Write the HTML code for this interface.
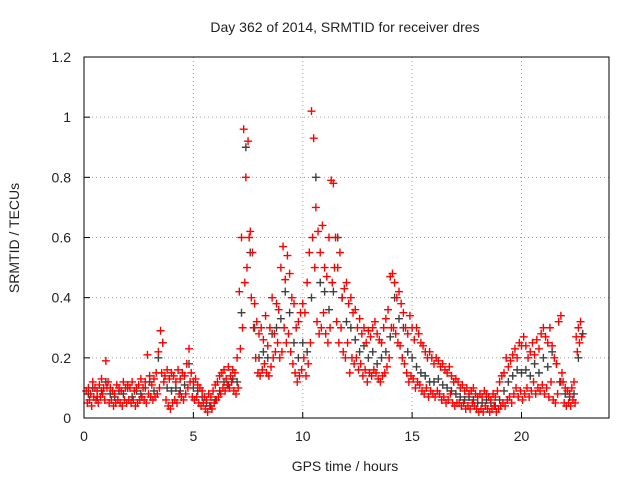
<!DOCTYPE html>
<html><head><meta charset="utf-8"><style>
html,body{margin:0;padding:0;background:#fff}
svg{display:block;font-family:"Liberation Sans",sans-serif}
</style></head><body>
<svg id="chart" width="640" height="480">
<rect width="640" height="480" fill="#fff"/>
<text x="345" y="32" text-anchor="middle" font-size="14" fill="#222">Day 362 of 2014, SRMTID for receiver dres</text>
<text x="345" y="471" text-anchor="middle" font-size="14" fill="#222">GPS time / hours</text>
<text transform="translate(19,238) rotate(-90)" text-anchor="middle" font-size="14" fill="#222">SRMTID / TECUs</text>
<g id="grid"></g>
<g id="marks"></g>
<rect x="84" y="57" width="525" height="361" fill="none" stroke="#000" stroke-width="1"/>
<g id="ticks"></g>
</svg>
<script>
const xTicks=[0,5,10,15,20];
const yTicks=[0,0.2,0.4,0.6,0.8,1,1.2];
const yTickLabels=["0","0.2","0.4","0.6","0.8","1","1.2"];
const red1=[0.09,0.1,0.08,0.12,0.1,0.09,0.11,0.13,0.1,0.19,
0.12,0.1,0.09,0.08,0.11,0.1,0.09,0.12,0.1,0.11,
0.1,0.12,0.09,0.1,0.11,0.13,0.1,0.12,0.21,0.14,
0.11,0.13,0.15,0.22,0.29,0.25,0.14,0.16,0.13,0.15,
0.14,0.12,0.16,0.13,0.15,0.14,0.18,0.23,0.15,0.12,
0.13,0.11,0.1,0.09,0.07,0.06,0.08,0.07,0.09,0.11,
0.12,0.14,0.15,0.16,0.13,0.17,0.14,0.16,0.15,0.2,
0.42,0.6,0.96,0.8,0.92,0.62,0.55,0.38,0.32,0.28,
0.3,0.26,0.34,0.24,0.3,0.4,0.28,0.38,0.36,0.5,
0.57,0.46,0.54,0.48,0.4,0.38,0.3,0.32,0.35,0.38,
0.35,0.45,0.55,1.02,0.93,0.7,0.62,0.55,0.64,0.5,
0.47,0.6,0.79,0.78,0.6,0.5,0.55,0.4,0.43,0.45,
0.38,0.4,0.35,0.36,0.3,0.33,0.28,0.3,0.25,0.29,
0.27,0.3,0.32,0.28,0.26,0.25,0.3,0.33,0.36,0.47,
0.48,0.45,0.4,0.42,0.38,0.35,0.3,0.28,0.34,0.3,
0.26,0.3,0.28,0.25,0.24,0.22,0.2,0.22,0.2,0.18,
0.2,0.19,0.17,0.18,0.16,0.15,0.17,0.14,0.12,0.13,
0.12,0.1,0.11,0.09,0.1,0.08,0.09,0.1,0.08,0.07,
0.08,0.07,0.09,0.08,0.07,0.06,0.08,0.07,0.09,0.12,
0.14,0.15,0.2,0.17,0.19,0.21,0.23,0.2,0.25,0.24,
0.27,0.24,0.2,0.22,0.25,0.21,0.26,0.23,0.28,0.3,
0.27,0.25,0.3,0.24,0.2,0.18,0.32,0.34,0.12,0.1,
0.09,0.08,0.1,0.12,0.27,0.3,0.32];
const red2=[0.05,0.06,0.04,0.07,0.06,0.05,0.07,0.08,0.06,0.1,
0.05,0.06,0.04,0.05,0.06,0.05,0.04,0.06,0.05,0.06,
0.05,0.06,0.04,0.05,0.06,0.07,0.06,0.05,0.08,0.07,
0.06,0.07,0.08,0.1,0.15,0.12,0.06,0.04,0.03,0.05,
0.06,0.05,0.08,0.07,0.06,0.08,0.1,0.12,0.07,0.06,
0.07,0.05,0.04,0.05,0.03,0.02,0.04,0.03,0.05,0.06,
0.07,0.08,0.1,0.09,0.11,0.1,0.12,0.09,0.08,0.1,
0.23,0.3,0.45,0.5,0.6,0.4,0.3,0.2,0.15,0.14,
0.16,0.18,0.15,0.14,0.17,0.2,0.22,0.25,0.2,0.22,
0.3,0.25,0.28,0.22,0.18,0.15,0.12,0.14,0.16,0.2,
0.14,0.18,0.25,0.6,0.5,0.32,0.28,0.3,0.35,0.28,
0.25,0.3,0.45,0.5,0.32,0.25,0.3,0.22,0.2,0.25,
0.15,0.2,0.18,0.2,0.16,0.18,0.14,0.16,0.12,0.15,
0.14,0.16,0.15,0.13,0.12,0.14,0.15,0.17,0.2,0.3,
0.3,0.28,0.25,0.24,0.2,0.18,0.15,0.12,0.14,0.13,
0.1,0.12,0.11,0.09,0.08,0.1,0.07,0.09,0.08,0.07,
0.09,0.08,0.06,0.07,0.05,0.06,0.08,0.05,0.04,0.05,
0.05,0.04,0.05,0.03,0.04,0.03,0.05,0.04,0.03,0.02,
0.03,0.02,0.04,0.03,0.02,0.03,0.04,0.02,0.03,0.04,
0.05,0.04,0.06,0.07,0.05,0.08,0.1,0.07,0.09,0.06,
0.08,0.1,0.07,0.09,0.12,0.08,0.1,0.09,0.11,0.08,
0.1,0.07,0.12,0.06,0.05,0.08,0.12,0.15,0.05,0.04,
0.05,0.04,0.06,0.05,0.22,0.25,0.27];
const gray=[0.08,0.1,0.07,0.09,0.12,0.08,0.07,0.09,0.08,0.1,
0.07,0.09,0.08,0.1,0.12,0.09,0.2,0.25,0.1,0.09,
0.1,0.09,0.11,0.18,0.1,0.09,0.07,0.05,0.04,0.06,
0.09,0.12,0.11,0.13,0.12,0.35,0.9,0.55,0.3,0.2,
0.22,0.2,0.28,0.3,0.33,0.42,0.35,0.25,0.2,0.25,
0.22,0.4,0.8,0.45,0.42,0.36,0.42,0.6,0.4,0.32,
0.3,0.26,0.22,0.24,0.2,0.22,0.18,0.2,0.22,0.27,
0.4,0.33,0.3,0.22,0.2,0.17,0.15,0.14,0.12,0.12,
0.13,0.11,0.1,0.09,0.08,0.07,0.06,0.07,0.06,0.05,
0.05,0.06,0.05,0.04,0.06,0.09,0.12,0.14,0.16,0.15,
0.16,0.14,0.18,0.15,0.2,0.17,0.22,0.18,0.12,0.08,
0.07,0.08,0.2,0.28];
const redStep=0.1, grayStep=0.2, redStart=0.1;
const X0=84,X1=609,Y0=418,Y1=57,XMAX=24,YMAX=1.2;
function xs(v){return X0+(X1-X0)*v/XMAX;}
function ys(v){return Y0-(Y0-Y1)*v/YMAX;}
const NS="http://www.w3.org/2000/svg";
const grid=document.getElementById('grid'),marks=document.getElementById('marks'),ticks=document.getElementById('ticks');
function el(t,a,p){const e=document.createElementNS(NS,t);for(const k in a)e.setAttribute(k,a[k]);p.appendChild(e);return e;}
xTicks.forEach(v=>{
  const x=xs(v);
  if(v>0){const g=el('line',{x1:x,x2:x,y1:Y1,y2:Y0,stroke:'#a0a0a0','stroke-dasharray':'1,3'},grid);
  
  }
  const t=el('line',{x1:x,x2:x,y1:Y0,y2:Y0-6,stroke:'#000'},ticks);
  
  
  const l=el('text',{x:x,y:Y0+23,'text-anchor':'middle','font-size':14,fill:'#222'},ticks);
  l.textContent=String(v);
  
  
});
yTicks.forEach((v,i)=>{
  const y=ys(v);
  if(v>0&&v<YMAX){const g=el('line',{x1:X0,x2:X1,y1:y,y2:y,stroke:'#a0a0a0','stroke-dasharray':'1,3'},grid);
  
  }
  const t=el('line',{x1:X0,x2:X0+6,y1:y,y2:y,stroke:'#000'},ticks);
  
  
  const l=el('text',{x:X0-13,y:y+5,'text-anchor':'end','font-size':14,fill:'#222'},ticks);
  l.textContent=yTickLabels[i];
  
  
});
function plus(v,t,color,name){
  const x=xs(t),y=ys(v);
  const p=el('path',{d:`M${x-4} ${y}H${x+4}M${x} ${y-4}V${y+4}`,stroke:color,'stroke-width':1.4,fill:'none'},marks);
  
  
}
gray.forEach((v,i)=>plus(v,i*grayStep+0.2,'#404040','gray-point'));
red1.forEach((v,i)=>plus(v,i*redStep+redStart,'#ff0000','red-point'));
red2.forEach((v,i)=>plus(v,i*redStep+redStart+0.05,'#ff0000','red-point'));
</script>
</body></html>
